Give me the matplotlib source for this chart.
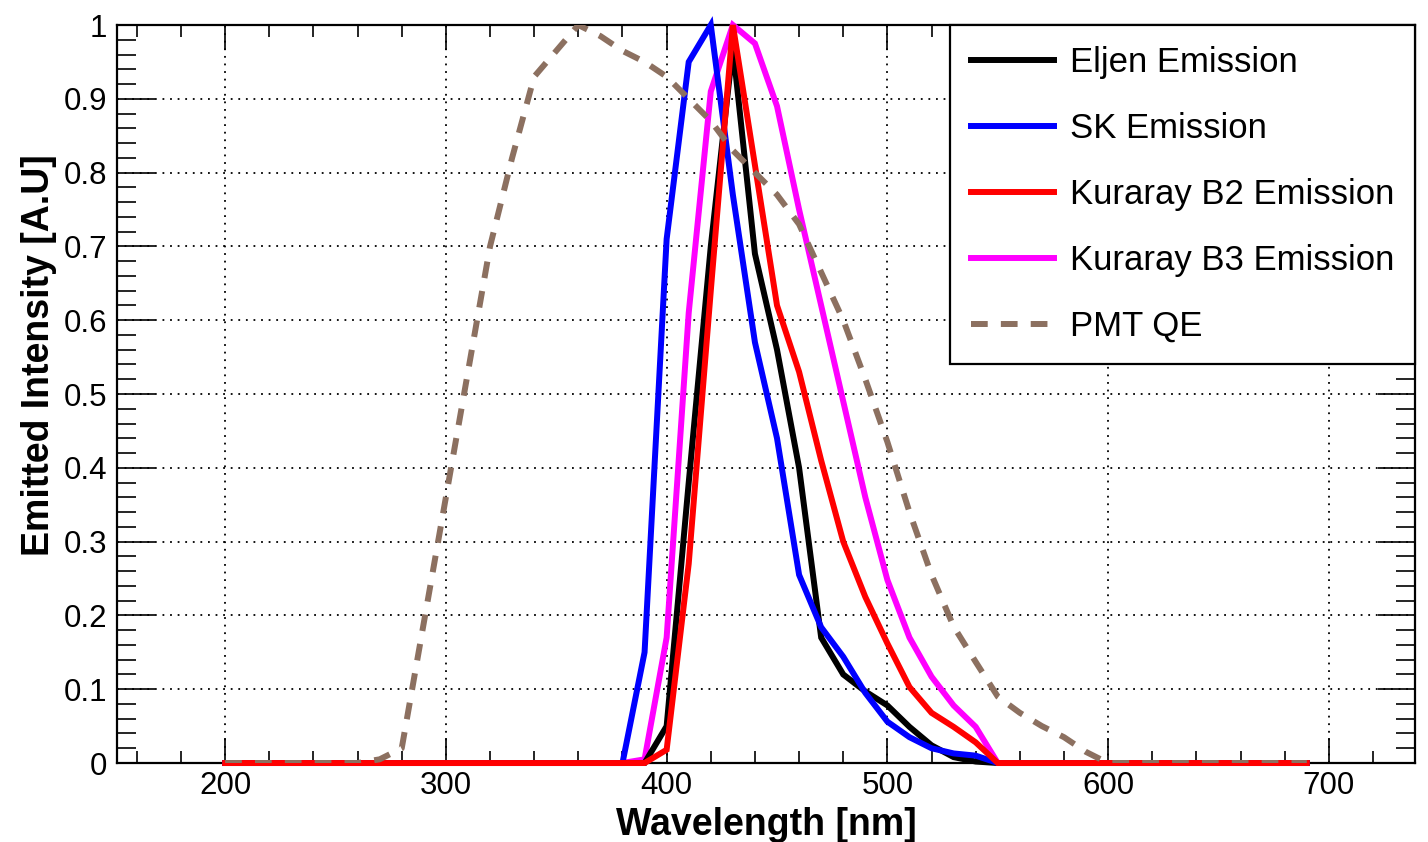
import matplotlib
matplotlib.use('Agg')
import matplotlib.pyplot as plt
from matplotlib.ticker import MultipleLocator, FuncFormatter
import numpy as np

plt.rcParams['font.family'] = ['Liberation Sans', 'DejaVu Sans']

# wavelength grid of the spectra [nm]
wl = np.arange(200, 700, 10)

# emission spectra, non-zero between 380 and 550 nm
band = np.arange(380, 560, 10)
eljen_band = [0.0, 0.0, 0.05, 0.38, 0.70, 0.97, 0.69, 0.56, 0.40, 0.17,
              0.12, 0.097, 0.078, 0.049, 0.024, 0.008, 0.002, 0.0]
sk_band = [0.0, 0.15, 0.71, 0.95, 1.0, 0.77, 0.57, 0.44, 0.255, 0.184,
           0.144, 0.095, 0.056, 0.035, 0.02, 0.013, 0.01, 0.0]
b2_band = [0.0, 0.0, 0.018, 0.27, 0.64, 1.0, 0.81, 0.62, 0.53, 0.41,
           0.30, 0.225, 0.162, 0.103, 0.068, 0.049, 0.028, 0.0]
b3_band = [0.0, 0.005, 0.17, 0.61, 0.91, 1.0, 0.975, 0.89, 0.75, 0.62,
           0.49, 0.36, 0.248, 0.17, 0.117, 0.078, 0.049, 0.0]

# PMT quantum efficiency, non-zero between 260 and 600 nm
qe_band_wl = np.arange(260, 610, 10)
qe_band = [0.0, 0.005, 0.02, 0.19, 0.36, 0.53, 0.70, 0.82, 0.93, 0.965,
           1.0, 0.985, 0.965, 0.95, 0.93, 0.90, 0.87, 0.83, 0.80, 0.77,
           0.73, 0.665, 0.60, 0.52, 0.435, 0.34, 0.255, 0.185, 0.137, 0.09,
           0.068, 0.05, 0.035, 0.015, 0.0]


def full(band_wl, band_vals):
    out = np.zeros(len(wl))
    for w, v in zip(band_wl, band_vals):
        out[wl == w] = v
    return out


eljen = full(band, eljen_band)
sk = full(band, sk_band)
b2 = full(band, b2_band)
b3 = full(band, b3_band)
qe = full(qe_band_wl, qe_band)

fig = plt.figure(figsize=(14.28, 8.42), dpi=100)
ax = fig.add_axes([0.0819, 0.0938, 0.9090, 0.8765])

lw = 4.3
kw = dict(lw=lw, solid_joinstyle='miter', clip_on=False)
l_b3, = ax.plot(wl, b3, color='#ff00ff', label='Kuraray B3 Emission', zorder=3, **kw)
l_el, = ax.plot(wl, eljen, color='black', label='Eljen Emission', zorder=4, **kw)
l_sk, = ax.plot(wl, sk, color='#0000ff', label='SK Emission', zorder=5, **kw)
l_b2, = ax.plot(wl, b2, color='#ff0000', label='Kuraray B2 Emission', zorder=6, **kw)
l_qe, = ax.plot(wl, qe, color='#8c7060', lw=lw, ls=(0, (2.8, 2.2)),
                label='PMT QE', zorder=7)

ax.set_xlim(151, 739)
ax.set_ylim(0, 1)

ax.xaxis.set_major_locator(MultipleLocator(100))
ax.xaxis.set_minor_locator(MultipleLocator(20))
ax.yaxis.set_major_locator(MultipleLocator(0.1))
ax.yaxis.set_minor_locator(MultipleLocator(0.02))
ax.yaxis.set_major_formatter(FuncFormatter(lambda v, p: '%g' % round(v, 2)))

ax.tick_params(axis='both', which='both', direction='in', top=True, right=True,
               width=1.2, labelsize=22.5)
ax.tick_params(axis='x', which='major', length=18, pad=6)
ax.tick_params(axis='x', which='minor', length=8.5)
ax.tick_params(axis='y', which='major', length=27, pad=7)
ax.tick_params(axis='y', which='minor', length=13.5)

ax.grid(True, which='major', color='black', lw=1.3, ls=(0, (1, 3.2)))
for s in ax.spines.values():
    s.set_linewidth(1.6)

ax.set_xlabel('Wavelength [nm]', fontsize=27, fontweight='bold', labelpad=4)
ax.set_ylabel('Emitted Intensity [A.U]', fontsize=27, fontweight='bold')
ax.yaxis.set_label_coords(-0.0462, 0.553)

leg = ax.legend(handles=[l_el, l_sk, l_b2, l_b3, l_qe], loc='upper right',
                bbox_to_anchor=(1.0, 1.0), borderaxespad=0, fontsize=25,
                frameon=True, fancybox=False, edgecolor='black', framealpha=1,
                handlelength=2.4, handletextpad=0.45, labelspacing=0.95,
                borderpad=0.6)
leg.get_frame().set_linewidth(1.6)
leg.set_zorder(10)

fig.savefig('out.png', dpi=100)
